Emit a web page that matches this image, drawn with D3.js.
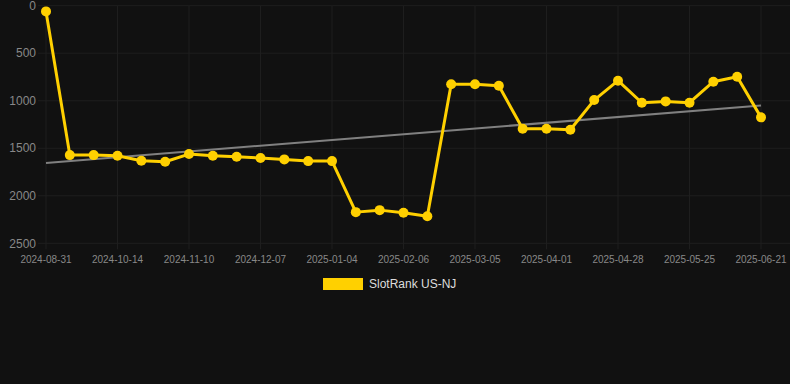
<!DOCTYPE html>
<html>
<head>
<meta charset="utf-8">
<script src="https://cdn.jsdelivr.net/npm/d3@7"></script>
<style>
  html, body { margin: 0; padding: 0; background: #111111; }
  svg { display: block; }
</style>
</head>
<body>
<svg id="chart" width="790" height="384"></svg>
<script>
const dates = [
  "2024-08-31","2024-09-14","2024-09-29","2024-10-14","2024-10-23","2024-11-01",
  "2024-11-10","2024-11-19","2024-11-28","2024-12-07","2024-12-16","2024-12-25",
  "2025-01-04","2025-01-15","2025-01-26","2025-02-06","2025-02-15","2025-02-24",
  "2025-03-05","2025-03-14","2025-03-23","2025-04-01","2025-04-10","2025-04-19",
  "2025-04-28","2025-05-07","2025-05-16","2025-05-25","2025-06-03","2025-06-12",
  "2025-06-21"
];
const rankValues = [
  60, 1572, 1572, 1578, 1631, 1642, 1561, 1579, 1589, 1603, 1617, 1635,
  1635, 2172, 2151, 2179, 2215, 827, 827, 842, 1295, 1295, 1305, 993,
  789, 1021, 1007, 1021, 800, 747, 1175
];
const yTicks = [0, 500, 1000, 1500, 2000, 2500];
const xTickEvery = 3;
const seriesName = "SlotRank US-NJ";

(function () {
const svg = d3.select("#chart");
const pL = 46, pR = 761, pT = 5.7, pB = 243.3;
const gridColor = "#1e1e1e";

const x = d3.scalePoint().domain(dates).range([pL, pR]);
const y = d3.scaleLinear().domain([0, 2500]).range([pT, pB]);

// horizontal grid
svg.append("g").selectAll("line").data(yTicks).join("line")
  .attr("x1", 38).attr("x2", 790)
  .attr("y1", d => y(d)).attr("y2", d => y(d))
  .attr("stroke", gridColor).attr("stroke-width", 1);

const xTickDates = dates.filter((d, i) => i % xTickEvery === 0);
svg.append("g").selectAll("line").data(xTickDates).join("line")
  .attr("x1", d => x(d)).attr("x2", d => x(d))
  .attr("y1", pT).attr("y2", pB + 6)
  .attr("stroke", gridColor).attr("stroke-width", 1);

// y axis labels
svg.append("g").selectAll("text").data(yTicks).join("text")
  .attr("x", 36).attr("y", d => y(d))
  .attr("dy", "0.35em")
  .attr("text-anchor", "end")
  .attr("font-family", "Liberation Sans, Arial, sans-serif")
  .attr("font-size", 12)
  .attr("fill", "#888888")
  .text(d => d);

// x axis labels
svg.append("g").selectAll("text").data(xTickDates).join("text")
  .attr("x", d => x(d)).attr("y", 259)
  .attr("dy", "0.35em")
  .attr("text-anchor", "middle")
  .attr("font-family", "Liberation Sans, Arial, sans-serif")
  .attr("font-size", 10)
  .attr("fill", "#888888")
  .text(d => d);

// trend line (least squares)
const n = rankValues.length;
const idx = d3.range(n);
const mx = d3.mean(idx), my = d3.mean(rankValues);
const slope = d3.sum(idx, i => (i - mx) * (rankValues[i] - my)) / d3.sum(idx, i => (i - mx) ** 2);
const intercept = my - slope * mx;
svg.append("line")
  .attr("x1", x(dates[0])).attr("y1", y(intercept))
  .attr("x2", x(dates[n - 1])).attr("y2", y(intercept + slope * (n - 1)))
  .attr("stroke", "#808080").attr("stroke-width", 2);

// series
const color = "#FFD000";
const line = d3.line().x((d, i) => x(dates[i])).y(d => y(d));
svg.append("path").datum(rankValues)
  .attr("d", line)
  .attr("fill", "none")
  .attr("stroke", color)
  .attr("stroke-width", 3)
  .attr("stroke-linejoin", "round");

svg.append("g").selectAll("circle").data(rankValues).join("circle")
  .attr("cx", (d, i) => x(dates[i]))
  .attr("cy", d => y(d))
  .attr("r", 5)
  .attr("fill", color);

// legend
const lg = svg.append("g");
lg.append("rect").attr("x", 323).attr("y", 278).attr("width", 40).attr("height", 12).attr("fill", color);
lg.append("text").attr("x", 369).attr("y", 284).attr("dy", "0.35em")
  .attr("font-family", "Liberation Sans, Arial, sans-serif")
  .attr("font-size", 12).attr("fill", "#dddddd")
  .text(seriesName);
})();
</script>
</body>
</html>
